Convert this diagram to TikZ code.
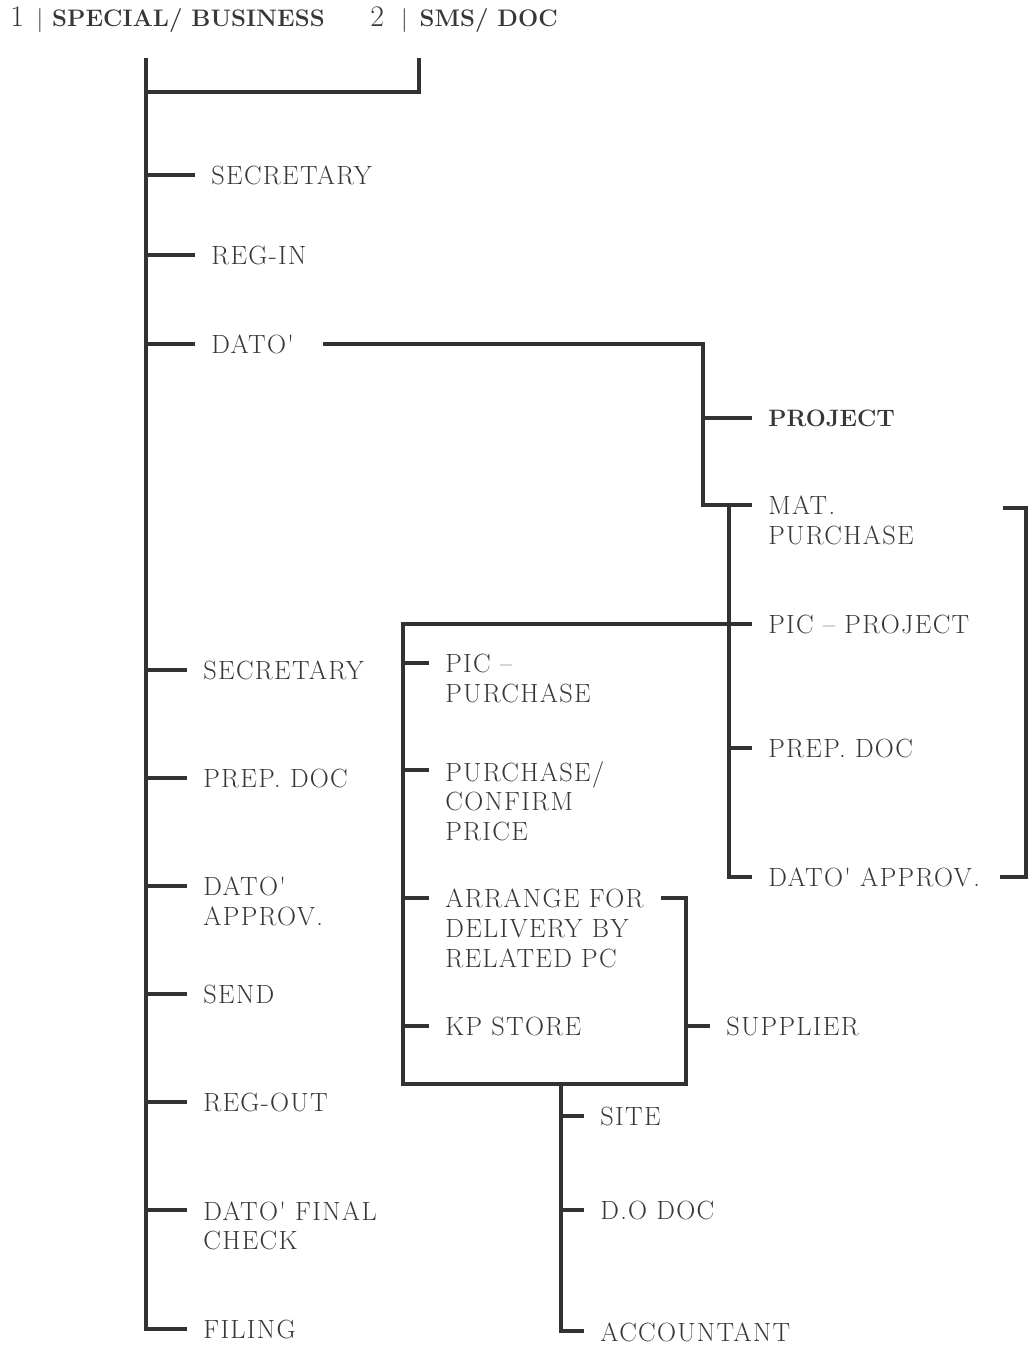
\documentclass[tikz,border=0pt]{standalone}
\usepackage{fontspec}
\newfontfamily\lblfont{Latin Modern Roman}[LetterSpace=5]
\usepackage{tikz}
\usetikzlibrary{calc,positioning}
\definecolor{ink}{RGB}{50,50,50}
\definecolor{txt}{RGB}{55,55,55}
\tikzset{
  lbl/.style={anchor=north west,inner sep=0pt,align=left,text=txt,
    font=\lblfont\fontsize{15}{17}\selectfont},
  hd/.style={anchor=west,inner sep=0pt,text=txt,
    font=\fontsize{13.6}{18}\selectfont},
  ln/.style={draw=ink,line width=1.8pt},
}

\begin{document}
\begin{tikzpicture}[x=0.02cm,y=-0.02cm]
  \useasboundingbox (0,0) rectangle (1033,1346);
  % headers
  \node[hd] (one) at (10,20) {{\fontsize{17}{18}\selectfont 1}\hspace{2.5mm}|\hspace{1.8mm}\textbf{SPECIAL/ BUSINESS}};
  \node[hd] (two) at (370,20) {{\fontsize{17}{18}\selectfont 2}\hspace{3.4mm}|\hspace{2.4mm}\textbf{SMS/ DOC}};
  % main column
  \node[lbl] (sec)    at (211,166)  {SECRETARY};
  \node[lbl] (regin)  at (211,246)  {REG-IN};
  \node[lbl] (dato)   at (211,335)  {DATO'};
  \node[lbl] (secB)   at (203,661)  {SECRETARY};
  \node[lbl] (prep)   at (203,769)  {PREP. DOC};
  \node[lbl] (appr)   at (203,877)  {DATO'\\APPROV.};
  \node[lbl] (send)   at (203,985)  {SEND};
  \node[lbl] (regout) at (203,1093) {REG-OUT};
  \node[lbl] (final)  at (203,1201) {DATO' FINAL\\CHECK};
  \node[lbl] (filing) at (203,1320) {FILING};
  % dato' branch
  \node[lbl] (proj)    at (768,410) {\normalfont\bfseries\fontsize{13.5}{17}\selectfont PROJECT};
  \node[lbl] (mat)     at (768,496) {MAT.\\PURCHASE};
  \node[lbl] (picproj) at (768,615) {PIC – PROJECT};
  \node[lbl] (prepB)   at (768,739) {PREP. DOC};
  \node[lbl] (apprB)   at (768,868) {DATO' APPROV.};
  % purchase box
  \node[lbl] (picpur)   at (445,654)  {PIC –\\PURCHASE};
  \node[lbl] (confirm)  at (445,761)  {PURCHASE/\\CONFIRM\\PRICE};
  \node[lbl] (arrange)  at (445,889)  {ARRANGE FOR\\DELIVERY BY\\RELATED PC};
  \node[lbl] (kpstore)  at (445,1017) {KP STORE};
  \node[lbl] (supplier) at (726,1017) {SUPPLIER};
  \node[lbl] (site)     at (600,1107) {SITE};
  \node[lbl] (dodoc)    at (600,1201) {D.O DOC};
  \node[lbl] (acct)     at (600,1322) {ACCOUNTANT};

  % tick ends
  \foreach \n in {sec,regin,dato,secB,prep,appr,send,regout,final,filing,
    mat,picproj,prepB,apprB,picpur,confirm,arrange,kpstore,supplier,
    site,dodoc,acct}
    \coordinate (t\n) at ($(\n.north west)+(-16,9)$);
  \coordinate (tproj) at ($(proj.north west)+(-16,8)$);

  \coordinate (trunk) at (146,58);
  \coordinate (hdr) at (419,58);
  \coordinate (sp) at (703,344);
  \coordinate (sq) at (729,505);
  \coordinate (bl) at (403,1084);
  \coordinate (br) at (686,1084);
  \coordinate (bm) at (561,1084);
  \coordinate (rb) at (1026,508);

  % trunk
  \draw[ln] (hdr) |- (trunk |- 0,92);
  \draw[ln] (trunk) |- (tfiling);
  \foreach \n in {sec,regin,dato,secB,prep,appr,send,regout,final}
    \draw[ln] (trunk |- t\n) -- (t\n);
  % dato' branch
  \draw[ln] ($(dato.north east)+(29,9)$) -- (sp) |- (tmat);
  \draw[ln] (sp |- tproj) -- (tproj);
  \draw[ln] (sq) |- (tapprB);
  \draw[ln] (sq |- tprepB) -- (tprepB);
  \draw[ln] (1003,508) -- (rb) |- ($(apprB.north east)+(20,9)$);
  % purchase box
  \draw[ln] (tpicproj) -| (bl) -- (br) |- ($(arrange.north east)+(17,9)$);
  \foreach \n in {picpur,confirm,arrange,kpstore}
    \draw[ln] (bl |- t\n) -- (t\n);
  \draw[ln] (br |- tsupplier) -- (tsupplier);
  % delivery
  \draw[ln] (bm) |- (tacct);
  \draw[ln] (bm |- tsite) -- (tsite);
  \draw[ln] (bm |- tdodoc) -- (tdodoc);
\end{tikzpicture}
\end{document}
